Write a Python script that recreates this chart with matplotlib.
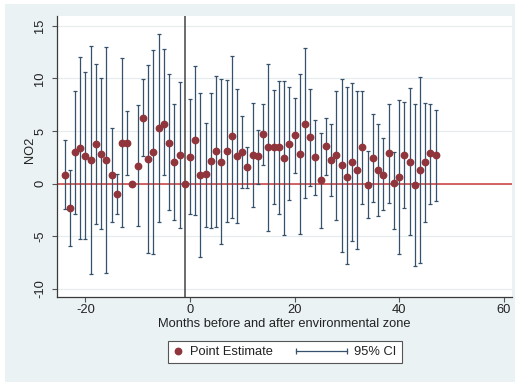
import numpy as np
import matplotlib
matplotlib.use('Agg')
import matplotlib.pyplot as plt
from matplotlib.lines import Line2D
from matplotlib.legend_handler import HandlerBase, HandlerLine2D
from matplotlib.patches import Rectangle

plt.rcParams['font.family'] = ['Liberation Sans', 'DejaVu Sans']
plt.rcParams['axes.unicode_minus'] = False

BG = '#eaf2f3'; PT = '#90353b'; CI = '#36516b'; TXT = '#222222'; AXC = '#3a3a3a'

# event-study coefficients, months -24 .. 47 (nan = no CI drawn)
months = list(range(-24, 48))
estimate = [0.79, -2.31, 2.98, 3.36, 2.60, 2.22, 3.80, 2.85, 2.25, 0.82,
            -1.01, 3.90, 3.90, 0.00, 1.68, 6.27, 2.34, 3.01, 5.32, 5.70,
            3.83, 2.06, 2.72, 0.00, 2.57, 4.12, 0.82, 0.89, 2.15, 3.07,
            2.09, 3.11, 4.50, 2.60, 2.98, 1.55, 2.72, 2.60, 4.69, 3.45,
            3.49, 3.45, 2.47, 3.80, 4.63, 2.82, 5.70, 4.40, 2.50, 0.35,
            3.55, 2.25, 2.69, 1.77, 0.67, 2.06, 1.30, 3.45, -0.10, 2.47,
            1.30, 0.79, 2.88, 0.06, 0.63, 2.72, 2.06, -0.10, 1.33, 2.09,
            2.92, 2.72]
ci_hi = [4.12, 1.27, 8.81, 12.07, 10.58, 13.12, 11.41, 10.01, 12.99, 5.32,
         0.89, 11.91, 6.91, np.nan, 7.48, 9.92, 11.28, 12.74, 14.23, 12.80,
         10.46, 7.57, 9.70, np.nan, 8.02, 11.22, 8.59, 5.80, 8.59, 10.27,
         9.92, 9.82, 12.17, 8.97, 6.46, 3.52, 7.64, 5.13, 7.54, 11.41,
         8.94, 9.79, 9.79, 9.19, 8.11, 10.39, 12.93, 8.97, 6.08, 4.85,
         6.27, 5.64, 8.81, 9.95, 9.19, 9.54, 8.78, 8.78, 3.14, 6.62,
         5.70, 4.31, 7.54, 3.04, 7.92, 7.79, 9.06, 7.54, 10.17, 7.64,
         7.54, 7.03]
ci_lo = [-2.41, -5.89, -2.85, -5.26, -5.26, -8.62, -3.87, -4.31, -8.52, -3.61,
         -2.92, -4.12, 0.82, np.nan, -4.06, 2.63, -6.62, -6.69, -3.68, 0.82,
         -2.53, -3.49, -4.25, np.nan, -2.85, -3.01, -6.94, -4.09, -4.25, -4.15,
         -5.77, -3.61, -3.30, -3.77, -0.44, -0.44, -2.19, -0.06, 1.77, -4.50,
         -1.96, -2.85, -4.88, -1.58, 1.01, -4.82, -1.39, -0.19, -1.08, -4.18,
         0.82, -1.14, -3.45, -6.53, -7.67, -5.45, -6.21, -1.96, -3.30, -1.71,
         -3.11, -2.53, -1.81, -4.31, -6.69, -2.34, -4.88, -7.79, -7.57, -3.68,
         -1.90, -1.65]
event_month = -1
xticks = [-20, 0, 20, 40, 60]
yticks = [-10, -5, 0, 5, 10, 15]


class CIHandler(HandlerBase):
    """range-cap legend key that reaches back into the column gap"""
    def create_artists(self, legend, orig_handle, xdescent, ydescent,
                       width, height, fontsize, trans):
        y = height / 2 - ydescent
        x0 = -xdescent - 3.2 * fontsize
        x1 = -xdescent + width
        ln = Line2D([x0, x1], [y, y], color=CI, lw=0.9, transform=trans)
        cap = Line2D([x0, x1], [y, y], ls='', marker='|', ms=4, mew=0.9,
                     color=CI, transform=trans)
        return [ln, cap]


fig = plt.figure(figsize=(5.2, 3.83), dpi=100)
fig.patch.set_facecolor('white')
fig.patches.append(Rectangle((5 / 520, 1 / 383), 510 / 520, 378 / 383,
                             transform=fig.transFigure, facecolor=BG,
                             edgecolor='none', zorder=-1))

ax = fig.add_axes([56.7 / 520, 1 - 296.7 / 383, 455.3 / 520, 280.7 / 383])
ax.set_facecolor('white')

est = np.array(estimate); lo = np.array(ci_lo); hi = np.array(ci_hi)
ax.axhline(0, color='#cc3a3a', lw=1.1, zorder=1)
ax.axvline(event_month, color='#444444', lw=1.1, zorder=1)
ax.errorbar(months, est, yerr=[est - lo, hi - est], fmt='none', ecolor=CI,
            elinewidth=0.9, capsize=1.6, capthick=0.9, zorder=2)
ax.plot(months, est, 'o', color=PT, ms=4.6, mec=PT, zorder=3)

ax.set_xlim(-25.5, 61.6)
ax.set_ylim(-10.74, 15.94)
ax.set_xticks(xticks)
ax.set_yticks(yticks)
ax.grid(axis='y', color='#e4ecee', lw=0.8, zorder=0)
ax.set_axisbelow(True)

for s in ['top', 'right']:
    ax.spines[s].set_visible(False)
for s in ['left', 'bottom']:
    ax.spines[s].set_color(AXC)
    ax.spines[s].set_linewidth(0.9)
ax.tick_params(length=3.6, width=0.8, color='#555555', labelsize=9.3,
               labelcolor=TXT)
ax.tick_params(axis='x', pad=1.5)
ax.tick_params(axis='y', pad=4)
for t in ax.get_yticklabels():
    t.set_rotation(90)
    t.set_va('center')

ax.set_xlabel('Months before and after environmental zone', fontsize=9.3,
              color=TXT, labelpad=1.5)
ax.set_ylabel('NO2', fontsize=9.3, color=TXT)
ax.yaxis.set_label_coords(-0.045, 0.523)

pt_handle = Line2D([], [], ls='', marker='o', ms=4.6, color=PT)
ci_handle = Line2D([], [], color=CI)
leg = fig.legend([pt_handle, ci_handle], ['Point Estimate', '95% CI'],
                 loc='center', bbox_to_anchor=(285 / 520, 1 - 352 / 383),
                 ncol=2, fontsize=9.3, handlelength=0.7, handletextpad=0.6,
                 columnspacing=5.0, borderpad=0.4, borderaxespad=0,
                 fancybox=False, framealpha=1, edgecolor='#555555',
                 handler_map={ci_handle: CIHandler(),
                              pt_handle: HandlerLine2D(numpoints=1)})
leg.get_frame().set_linewidth(0.8)
for t in leg.get_texts():
    t.set_color(TXT)

fig.savefig('out.png', dpi=100)
